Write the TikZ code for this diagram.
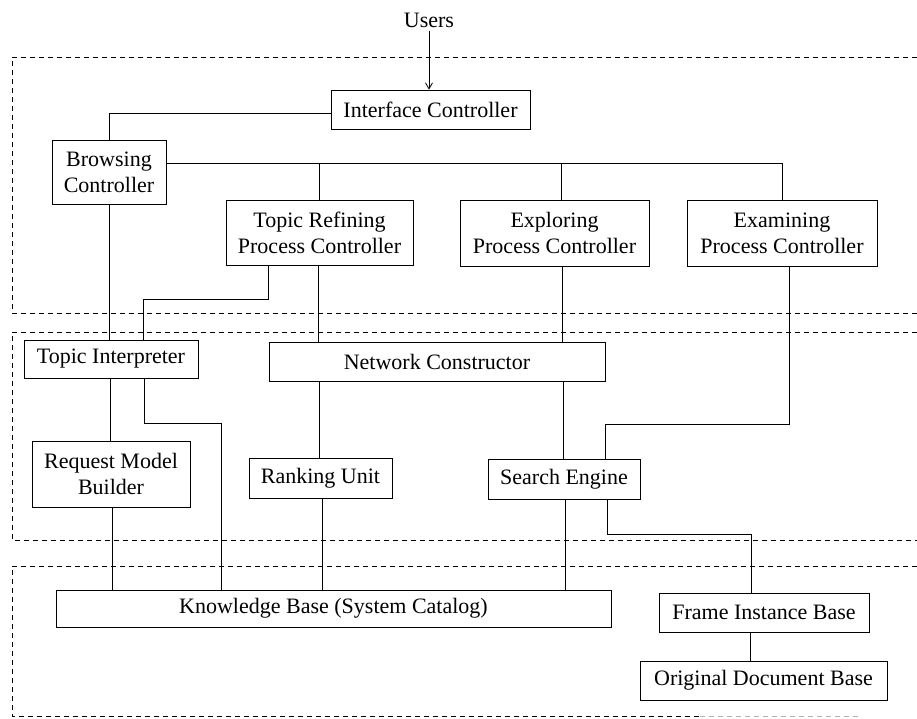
\documentclass[tikz,border=0pt]{standalone}
\usepackage{fontspec}
\setmainfont{Liberation Serif}
\usetikzlibrary{arrows.meta}
\begin{document}
\begin{tikzpicture}[x=1pt,y=-1pt,
  every node/.style={font=\fontsize{22}{26}\selectfont},
  unit/.style={draw,line width=0.8pt,inner sep=0pt,align=center},
  link/.style={line width=0.8pt},
  layer/.style={line width=0.7pt,dash pattern=on 5pt off 4pt}]
\useasboundingbox (0,0) rectangle (917,718);

% layer frames (open on the right)
\draw[layer] (917,57) -- (12,57) -- (12,313) -- (917,313);
\draw[layer] (917,332) -- (12,332) -- (12,540) -- (917,540);
\draw[layer] (917,566) -- (12,566) -- (12,716) -- (700,716);
\draw[layer,black!30] (700,716) -- (860,716);

% components
\node (users) at (429,20) {Users};
\node[unit,minimum width=199,minimum height=39] (iface) at (430.5,109.5) {Interface Controller};
\node[unit,minimum width=114,minimum height=64] (browse) at (109,172) {Browsing\\Controller};
\node[unit,minimum width=187,minimum height=65] (topic) at (319.5,232.5) {Topic Refining\\Process Controller};
\node[unit,minimum width=189,minimum height=66] (explore) at (554.5,233) {Exploring\\Process Controller};
\node[unit,minimum width=190,minimum height=66] (examine) at (782,233) {Examining\\Process Controller};
\node[unit,minimum width=174,minimum height=38] (interp) at (111,359) {Topic Interpreter};
\node[unit,minimum width=336,minimum height=39] (netc) at (437,361.5) {Network Constructor};
\node[unit,minimum width=158,minimum height=66] (request) at (111,474) {Request Model\\Builder};
\node[unit,minimum width=143,minimum height=40] (rank) at (320.5,478) {Ranking Unit};
\node[unit,minimum width=152,minimum height=40] (search) at (564,479) {Search Engine};
\node[unit,minimum width=555,minimum height=37] (kb) at (333.5,608.5) {Knowledge Base (System Catalog)};
\node[unit,minimum width=210,minimum height=39] (frame) at (764,612.5) {Frame Instance Base};
\node[unit,minimum width=247,minimum height=39] (orig) at (763.5,680.5) {Original Document Base};

% bend and tap points
\coordinate (bus) at (0,163);
\coordinate (tx) at (429,0);
\coordinate (ex) at (561,0);
\coordinate (t1) at (268,299);
\coordinate (t2) at (143,299);
\coordinate (t3) at (318,0);
\coordinate (x1) at (562,0);
\coordinate (e1) at (789,424);
\coordinate (e2) at (605,424);
\coordinate (i1) at (144,423);
\coordinate (i2) at (221,423);
\coordinate (i3) at (110,0);
\coordinate (r1) at (112,0);
\coordinate (n1) at (319,0);
\coordinate (k1) at (322,0);
\coordinate (n2) at (563,0);
\coordinate (s1) at (565,0);
\coordinate (s2) at (607,534);
\coordinate (s3) at (751,534);
\coordinate (f1) at (750,0);

% connectors
\draw[link,-{Straight Barb[length=6pt,width=7pt]}] (users.south -| tx) -- (iface.north -| tx);
\draw[link] ([yshift=-3.5pt]iface.west) -| (browse.north);
\draw[link] (browse.east |- bus) -| (examine.north);
\draw[link] (topic.north) -- (topic.north |- bus);
\draw[link] (explore.north -| ex) -- (bus -| ex);
\draw[link] (browse.south) -- (browse.south |- interp.north);
\draw[link] (topic.south -| t1) -- (t1) -- (t2) -- (interp.north -| t2);
\draw[link] (topic.south -| t3) -- (netc.north -| t3);
\draw[link] (explore.south -| x1) -- (netc.north -| x1);
\draw[link] (examine.south -| e1) -- (e1) -- (e2) -- (search.north -| e2);
\draw[link] (interp.south -| i3) -- (request.north -| i3);
\draw[link] (interp.south -| i1) -- (i1) -- (i2) -- (kb.north -| i2);
\draw[link] (request.south -| r1) -- (kb.north -| r1);
\draw[link] (netc.south -| n1) -- (rank.north -| n1);
\draw[link] (rank.south -| k1) -- (kb.north -| k1);
\draw[link] (netc.south -| n2) -- (search.north -| n2);
\draw[link] (search.south -| s1) -- (kb.north -| s1);
\draw[link] (search.south -| s2) -- (s2) -- (s3) -- (frame.north -| s3);
\draw[link] (frame.south -| f1) -- (orig.north -| f1);
\end{tikzpicture}
\end{document}
